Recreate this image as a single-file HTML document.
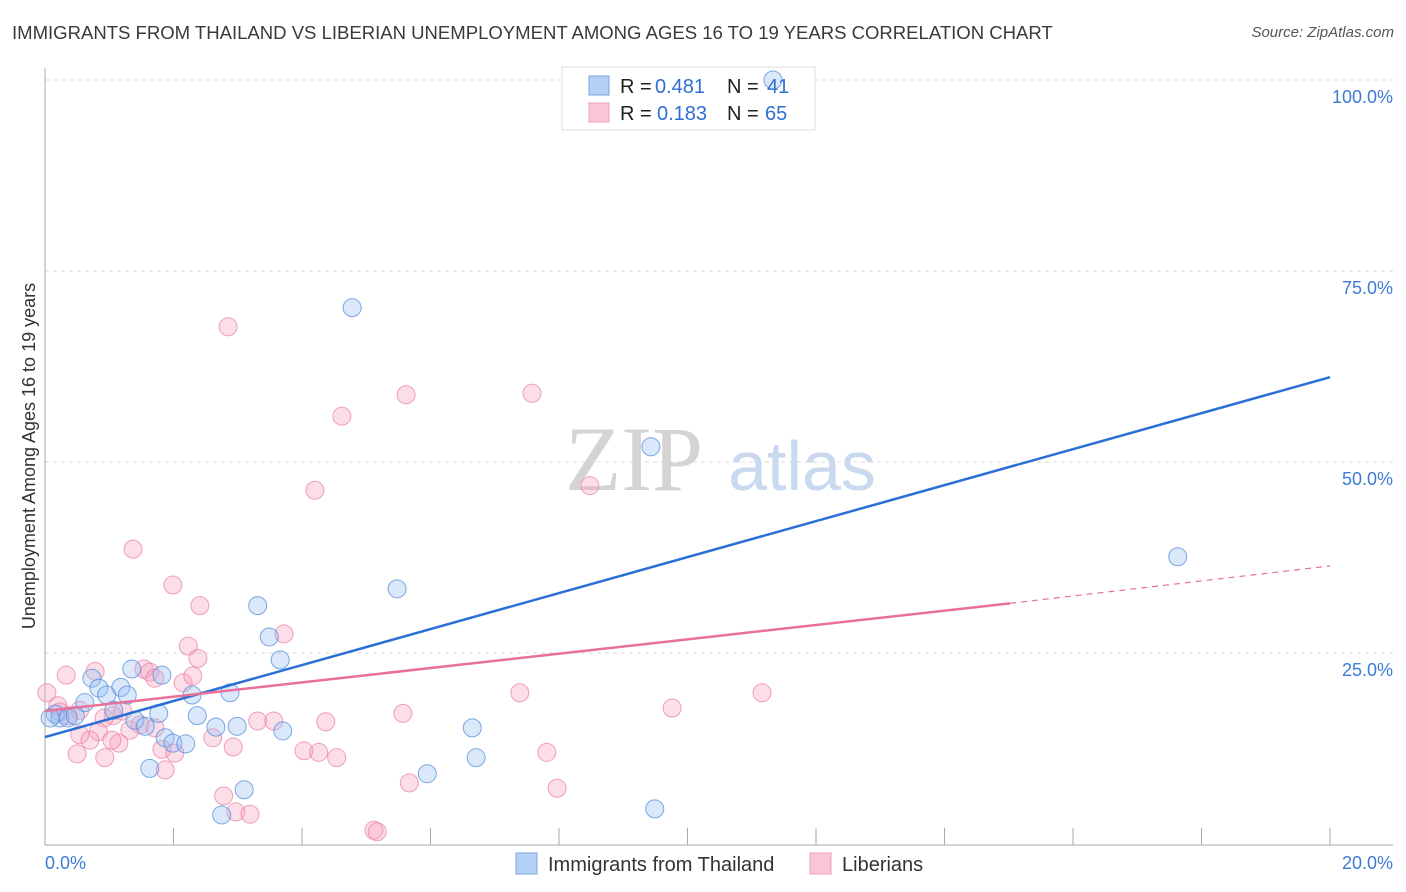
<!DOCTYPE html>
<html><head><meta charset="utf-8">
<style>
body{margin:0;background:#fff;font-family:"Liberation Sans",sans-serif;}
#wrap{position:relative;width:1406px;height:892px;overflow:hidden;}
.t{position:absolute;white-space:nowrap;}
</style></head>
<body>
<div id="wrap">
<div class="t" style="left:12px;top:22px;font-size:18.55px;color:#3a3a3a;">IMMIGRANTS FROM THAILAND VS LIBERIAN UNEMPLOYMENT AMONG AGES 16 TO 19 YEARS CORRELATION CHART</div>
<div class="t" style="right:12px;top:24px;font-size:15px;color:#555;font-style:italic;">Source: ZipAtlas.com</div>
<svg id="svg" width="1406" height="892" style="position:absolute;left:0;top:0"></svg>
</div>
<script>
const xTicks=[0,2,4,6,8,10,12,14,16,18,20];
const yTicks=[25,50,75,100];
const blueX=[11.33,4.78,9.43,17.63,5.48,3.31,3.49,3.66,1.35,1.82,0.73,0.84,1.18,1.28,0.96,2.29,2.88,0.62,0.16,0.23,0.36,1.07,1.77,2.37,1.40,1.56,2.66,2.99,3.70,6.65,1.87,1.99,2.19,6.71,1.63,5.95,3.10,2.75,9.49,0.08,0.47];
const blueY=[100,70.2,52.0,37.6,33.4,31.2,27.1,24.1,22.9,22.1,21.7,20.4,20.5,19.5,19.5,19.5,19.8,18.5,17.0,16.5,16.5,17.5,17.1,16.8,16.2,15.4,15.3,15.4,14.8,15.2,13.9,13.2,13.1,11.3,9.9,9.2,7.1,3.8,4.6,16.5,16.8];
const pinkX=[2.85,5.62,7.58,4.62,4.20,8.48,1.37,1.99,2.41,3.72,2.23,2.38,0.33,0.78,1.54,1.63,1.71,2.15,2.30,0.03,7.39,11.16,9.76,5.57,0.20,0.54,1.06,1.21,0.92,3.31,3.56,4.37,1.48,1.32,0.83,0.54,0.70,1.15,1.04,2.61,2.93,1.82,2.02,4.03,4.26,4.54,7.81,0.50,0.93,1.87,5.67,7.97,2.78,2.97,3.19,5.12,5.17,0.23,0.36,1.71];
const pinkY=[67.7,58.8,59.0,56.0,46.3,46.9,38.6,33.9,31.2,27.5,25.9,24.3,22.1,22.6,22.9,22.5,21.7,21.1,22.0,19.8,19.8,19.8,17.8,17.1,18.1,17.5,16.8,17.4,16.5,16.1,16.1,16.0,15.6,14.9,14.7,14.3,13.6,13.2,13.6,13.9,12.7,12.4,11.9,12.2,12.0,11.3,12.0,11.8,11.3,9.7,8.0,7.3,6.3,4.2,3.9,1.8,1.6,17.3,16.8,15.2];
const blueTrend=[[0,14.0],[20,61.1]];
const pinkTrend=[[0,17.4],[15.02,31.5]];
const pinkDash=[[15.02,31.5],[20,36.4]];
const X=v=>45+v/20*1285, Y=v=>844-v/100*764;
const svg=document.getElementById('svg');const NS='http://www.w3.org/2000/svg';
function mk(tag,attrs,name){const e=document.createElementNS(NS,tag);for(const k in attrs)e.setAttribute(k,attrs[k]);


svg.appendChild(e);return e;}
yTicks.forEach(v=>{mk('line',{x1:45,x2:1393,y1:Y(v),y2:Y(v),stroke:'#d8d8d8','stroke-dasharray':'4,4'},'y-gridline');
const t=mk('text',{x:1393,y:Y(v)+23,'text-anchor':'end','font-size':18,fill:'#3d7bd6','font-family':'Liberation Sans'},'y-tick-label');t.textContent=v.toFixed(1)+'%';});
mk('line',{x1:45,x2:45,y1:68,y2:845,stroke:'#aaa'},'y-axis-line');
mk('line',{x1:45,x2:1393,y1:845,y2:845,stroke:'#aaa'},'x-axis-line');
xTicks.forEach(v=>{mk('line',{x1:X(v),x2:X(v),y1:828,y2:845,stroke:'#aaa'},'x-tick');});
let t=mk('text',{x:45,y:869,'font-size':18,fill:'#3d7bd6','font-family':'Liberation Sans'},'x-min-label');t.textContent=xTicks[0].toFixed(1)+'%';
t=mk('text',{x:1393,y:869,'text-anchor':'end','font-size':18,fill:'#3d7bd6','font-family':'Liberation Sans'},'x-max-label');t.textContent=xTicks[xTicks.length-1].toFixed(1)+'%';
t=mk('text',{x:35,y:456,'text-anchor':'middle','font-size':18,fill:'#333','font-family':'Liberation Sans',transform:'rotate(-90 35 456)'},'y-axis-title');t.textContent='Unemployment Among Ages 16 to 19 years';
t=mk('text',{x:634,y:490,'text-anchor':'middle','font-size':92,fill:'#d4d4d4','font-family':'Liberation Serif'},'watermark-zip');t.textContent='ZIP';
t=mk('text',{x:802,y:490,'text-anchor':'middle','font-size':70,fill:'#c8d9f0','font-family':'Liberation Sans'},'watermark-atlas');t.textContent='atlas';
mk('rect',{x:562,y:67,width:253,height:63,fill:'#fff',stroke:'#ddd'},'stats-legend-box');
pinkX.forEach((x,i)=>mk('circle',{cx:X(x),cy:Y(pinkY[i]),r:9,fill:'rgba(246,160,188,0.35)',stroke:'rgba(236,130,165,0.75)','stroke-width':1},'liberians-point'));
blueX.forEach((x,i)=>mk('circle',{cx:X(x),cy:Y(blueY[i]),r:9,fill:'rgba(150,190,240,0.35)',stroke:'rgba(80,140,220,0.75)','stroke-width':1},'thailand-point'));
mk('line',{x1:X(blueTrend[0][0]),y1:Y(blueTrend[0][1]),x2:X(blueTrend[1][0]),y2:Y(blueTrend[1][1]),stroke:'#2a6fd6','stroke-width':2.5},'thailand-trend-line');
mk('line',{x1:X(pinkTrend[0][0]),y1:Y(pinkTrend[0][1]),x2:X(pinkTrend[1][0]),y2:Y(pinkTrend[1][1]),stroke:'#e8709a','stroke-width':2.5},'liberians-trend-line');
mk('line',{x1:X(pinkDash[0][0]),y1:Y(pinkDash[0][1]),x2:X(pinkDash[1][0]),y2:Y(pinkDash[1][1]),stroke:'#e8709a','stroke-width':1.2,'stroke-dasharray':'6,5'},'liberians-trend-extension');
mk('rect',{x:589,y:76,width:20,height:19,fill:'#b5d0f5',stroke:'#7aa6e0'},'thailand-legend-swatch');
mk('rect',{x:589,y:103,width:20,height:19,fill:'#f9c6d6',stroke:'#eda0b9'},'liberians-legend-swatch');
function lt(x,y,s,c,n){const e=mk('text',{x:x,y:y,'font-size':20,fill:c,'font-family':'Liberation Sans'},n);e.textContent=s;}
lt(620,93,'R = ','#222','r-label');lt(655,93,'0.481','#2f6fd0','thailand-r-value');lt(727,93,'N = ','#222','n-label');lt(767,93,'41','#2f6fd0','thailand-n-value');
lt(620,120,'R = ','#222','r-label');lt(657,120,'0.183','#2f6fd0','liberians-r-value');lt(727,120,'N = ','#222','n-label');lt(765,120,'65','#2f6fd0','liberians-n-value');
mk('rect',{x:516,y:853,width:21,height:21,fill:'#b5d0f5',stroke:'#7aa6e0'},'thailand-bottom-swatch');
lt(548,871,'Immigrants from Thailand','#333','thailand-bottom-label');
mk('rect',{x:810,y:853,width:21,height:21,fill:'#f9c6d6',stroke:'#eda0b9'},'liberians-bottom-swatch');
lt(842,871,'Liberians','#333','liberians-bottom-label');
</script>
</body></html>
